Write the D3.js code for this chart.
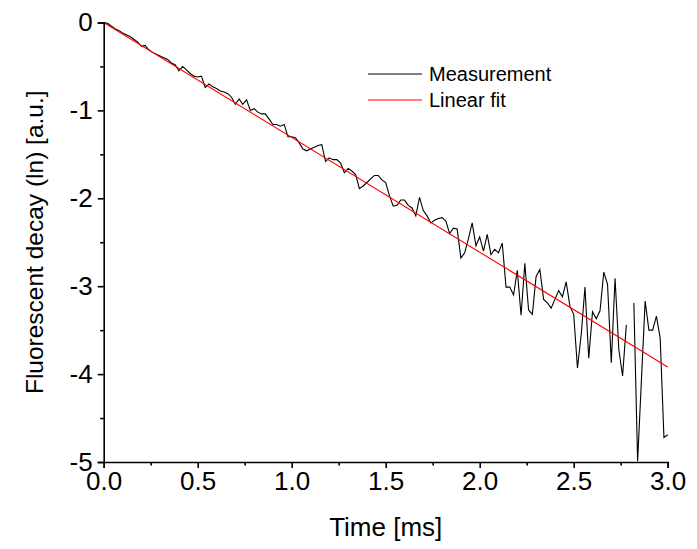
<!DOCTYPE html>
<html>
<head>
<meta charset="utf-8">
<script src="https://cdn.jsdelivr.net/npm/d3@7/dist/d3.min.js"></script>
<style>
  body { margin: 0; background: #fff; }
  svg { display: block; }
</style>
</head>
<body>
<svg id="chart" width="697" height="549"></svg>
<script>
// Fluorescent decay (ln) against time: noisy measurement plus its linear fit.

const xTicks = [0, 0.5, 1.0, 1.5, 2.0, 2.5, 3.0];
const xMinorTicks = [0.25, 0.75, 1.25, 1.75, 2.25, 2.75];
const yTicks = [0, -1, -2, -3, -4, -5];
const yMinorTicks = [-0.5, -1.5, -2.5, -3.5, -4.5];

const seriesNames = ["Measurement", "Linear fit"];
const seriesColors = ["#000000", "#ff0000"];

// measurement, sampled every 0.02 ms (null = point missing in the source)
const measTime = [
  0.00, 0.02, 0.04, 0.06, 0.08, 0.10, 0.12, 0.14, 0.16, 0.18,
  0.20, 0.22, 0.24, 0.26, 0.28, 0.30, 0.32, 0.34, 0.36, 0.38,
  0.40, 0.42, 0.44, 0.46, 0.48, 0.50, 0.52, 0.54, 0.56, 0.58,
  0.60, 0.62, 0.64, 0.66, 0.68, 0.70, 0.72, 0.74, 0.76, 0.78,
  0.80, 0.82, 0.84, 0.86, 0.88, 0.90, 0.92, 0.94, 0.96, 0.98,
  1.00, 1.02, 1.04, 1.06, 1.08, 1.10, 1.12, 1.14, 1.16, 1.18,
  1.20, 1.22, 1.24, 1.26, 1.28, 1.30, 1.32, 1.34, 1.36, 1.38,
  1.40, 1.42, 1.44, 1.46, 1.48, 1.50, 1.52, 1.54, 1.56, 1.58,
  1.60, 1.62, 1.64, 1.66, 1.68, 1.70, 1.72, 1.74, 1.76, 1.78,
  1.80, 1.82, 1.84, 1.86, 1.88, 1.90, 1.92, 1.94, 1.96, 1.98,
  2.00, 2.02, 2.04, 2.06, 2.08, 2.10, 2.12, 2.14, 2.16, 2.18,
  2.20, 2.22, 2.24, 2.26, 2.28, 2.30, 2.32, 2.34, 2.36, 2.38,
  2.40, 2.42, 2.44, 2.46, 2.48, 2.50, 2.52, 2.54, 2.56, 2.58,
  2.60, 2.62, 2.64, 2.66, 2.68, 2.70, 2.72, 2.74, 2.76, 2.78,
  2.80, 2.82, 2.84, 2.86, 2.88, 2.90, 2.92, 2.94, 2.96, 2.98,
  3.00
];
const measValue = [
  0.00, -0.01, -0.04, -0.07, -0.09, -0.12, -0.14, -0.16, -0.19, -0.22,
  -0.27, -0.26, -0.31, -0.34, -0.36, -0.38, -0.40, -0.42, -0.46, -0.48,
  -0.55, -0.50, -0.54, -0.58, -0.61, -0.62, -0.61, -0.74, -0.70, -0.73,
  -0.75, -0.78, -0.79, -0.81, -0.85, -0.93, -0.87, -0.93, -0.88, -1.00,
  -0.98, -1.02, -1.04, -1.04, -1.10, -1.16, -1.16, -1.18, -1.16, -1.30,
  -1.30, -1.31, -1.37, -1.44, -1.46, -1.44, -1.42, -1.40, -1.39, -1.58,
  -1.54, -1.56, -1.56, -1.60, -1.71, -1.66, -1.69, -1.73, -1.89, -1.86,
  -1.82, -1.78, -1.74, -1.74, -1.79, -1.82, -1.97, -2.09, -2.08, -2.02,
  -2.02, -2.08, -2.11, -2.20, -1.99, -2.14, -2.20, -2.28, -2.25, -2.23,
  -2.22, -2.26, -2.40, -2.34, -2.35, -2.68, -2.62, -2.46, -2.28, -2.54,
  -2.44, -2.60, -2.41, -2.64, -2.58, -2.62, -2.51, -3.01, -3.01, -3.10,
  -2.82, -3.33, -2.74, -3.27, -3.32, -2.89, -2.81, -3.15, -3.19, -3.25,
  -3.15, -3.05, -3.12, -2.95, -3.23, -3.32, -3.93, -3.55, -3.01, -3.82,
  -3.29, -3.37, -3.28, -2.84, -2.98, -3.87, -2.91, -3.72, -4.02, -3.44,
  null, -3.19, -4.99, -4.08, -3.17, -3.50, -3.50, -3.34, -3.59, -4.72,
  -4.69
];

// linear fit end points
const fitTime = [0, 3.0];
const fitValue = [0, -3.92];

const FONT = "'Liberation Sans', Arial, Helvetica, sans-serif";

const svg = d3.select("#chart");
const width = +svg.attr("width");
const height = +svg.attr("height");
const margin = { top: 22.5, right: 29.3, bottom: 87, left: 103.7 };

const x = d3.scaleLinear()
  .domain([0, 3])
  .range([margin.left, width - margin.right]);

const y = d3.scaleLinear()
  .domain([-5, 0])
  .range([height - margin.bottom, margin.top]);

const measured = measTime.map((t, i) => ({ t, v: measValue[i] }));
const fitted = fitTime.map((t, i) => ({ t, v: fitValue[i] }));

const line = d3.line()
  .defined(d => d.v !== null)
  .x(d => x(d.t))
  .y(d => y(d.v));

svg.append("path")
  .datum(measured)
  .attr("fill", "none")
  .attr("stroke", seriesColors[0])
  .attr("stroke-width", 1.1)
  .attr("stroke-linejoin", "miter")
  .attr("d", line);

svg.append("path")
  .datum(fitted)
  .attr("fill", "none")
  .attr("stroke", seriesColors[1])
  .attr("stroke-width", 1.1)
  .attr("d", line);

// axes: major ticks with labels, minor ticks shorter, both outward
function styleAxis(g) {
  g.selectAll(".domain").attr("stroke", "#000").attr("stroke-width", 1.6);
  g.selectAll(".tick line").attr("stroke", "#000").attr("stroke-width", 1.6);
  g.selectAll(".tick text")
    .attr("fill", "#000")
    .attr("font-family", FONT)
    .attr("font-size", 26);
}

svg.append("g")
  .attr("transform", `translate(0,${y(-5)})`)
  .call(d3.axisBottom(x).tickValues(xTicks).tickSize(6).tickPadding(4)
    .tickFormat(d => d.toFixed(1)))
  .call(styleAxis);

svg.append("g")
  .attr("transform", `translate(0,${y(-5)})`)
  .call(d3.axisBottom(x).tickValues(xMinorTicks).tickSize(3.5).tickFormat(""))
  .call(styleAxis)
  .select(".domain").remove();

svg.append("g")
  .attr("transform", `translate(${x(0)},0)`)
  .call(d3.axisLeft(y).tickValues(yTicks).tickSize(6).tickPadding(5)
    .tickFormat(d => String(d)))
  .call(styleAxis);

svg.append("g")
  .attr("transform", `translate(${x(0)},0)`)
  .call(d3.axisLeft(y).tickValues(yMinorTicks).tickSize(3.5).tickFormat(""))
  .call(styleAxis)
  .select(".domain").remove();

// axis titles
svg.append("text")
  .attr("x", (x(0) + x(3)) / 2)
  .attr("y", 536)
  .attr("text-anchor", "middle")
  .attr("font-family", FONT)
  .attr("font-size", 26)
  .attr("fill", "#000")
  .text("Time [ms]");

svg.append("text")
  .attr("transform", `translate(43,${(y(0) + y(-5)) / 2}) rotate(-90)`)
  .attr("text-anchor", "middle")
  .attr("font-family", FONT)
  .attr("font-size", 24.5)
  .attr("fill", "#000")
  .text("Fluorescent decay (ln) [a.u.]");

// legend
const legend = svg.append("g")
  .attr("transform", "translate(368,74)");

const legendRows = legend.selectAll(".legend-row")
  .data(seriesNames)
  .join("g")
  .attr("class", "legend-row")
  .attr("transform", (d, i) => `translate(0,${i * 26})`);

legendRows.append("line")
  .attr("x1", 0)
  .attr("x2", 54)
  .attr("stroke", (d, i) => seriesColors[i])
  .attr("stroke-width", 1.1);

legendRows.append("text")
  .attr("x", 61)
  .attr("dy", "0.35em")
  .attr("font-family", FONT)
  .attr("font-size", 20)
  .attr("fill", "#000")
  .text(d => d);
</script>
</body>
</html>
